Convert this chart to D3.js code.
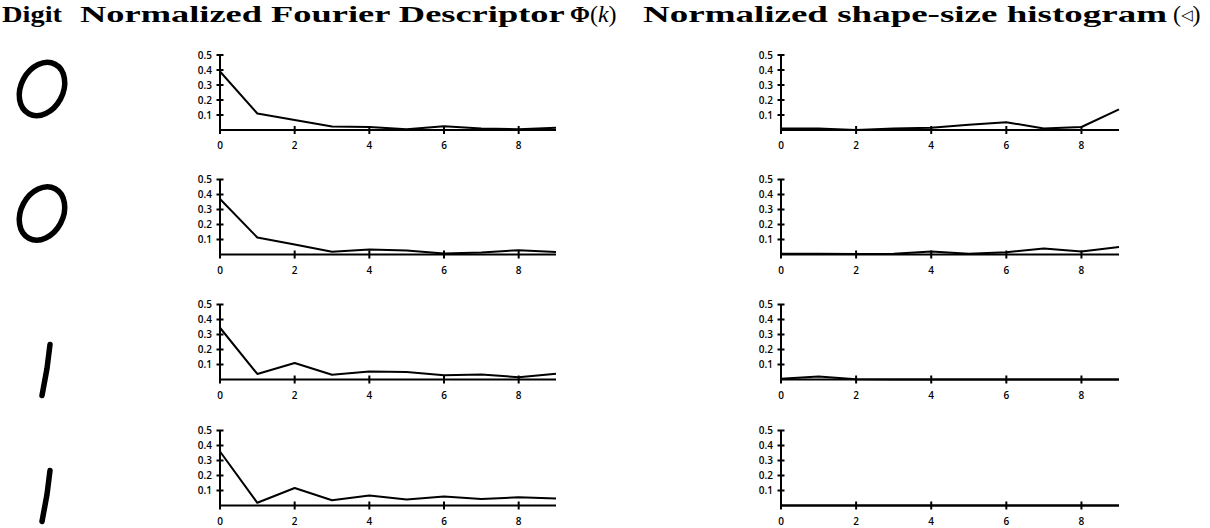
<!DOCTYPE html>
<html><head><meta charset="utf-8">
<script src="https://cdn.jsdelivr.net/npm/d3@7"></script>
<style>
html,body{margin:0;padding:0;background:#fff;}
svg{display:block;}
</style></head>
<body>
<svg id="c" width="1210" height="528"></svg>
<script>
// ---- data ----
const kValues = [0,1,2,3,4,5,6,7,8,9];
const xTicks = [0,2,4,6,8];
const yTicks = [0.1,0.2,0.3,0.4,0.5];
const yTickLabels = ["0.1","0.2","0.3","0.4","0.5"];
const digits = ["0","0","1","1"];
const headers = ["Digit","Normalized Fourier Descriptor","Normalized shape-size histogram"];
const fourier0a = [0.39,0.11,0.067,0.024,0.02,0.005,0.025,0.01,0.005,0.015];
const fourier0b = [0.37,0.113,0.067,0.018,0.033,0.027,0.007,0.013,0.029,0.016];
const fourier1a = [0.345,0.037,0.11,0.032,0.054,0.05,0.028,0.034,0.015,0.039];
const fourier1b = [0.36,0.018,0.117,0.035,0.066,0.04,0.06,0.044,0.055,0.046];
const hist0a = [0.01,0.01,0.0,0.01,0.015,0.035,0.052,0.01,0.02,0.137];
const hist0b = [0.005,0.005,0.003,0.005,0.02,0.005,0.015,0.04,0.02,0.05];
const hist1a = [0.005,0.02,0.002,0,0,0,0,0,0,0];
const hist1b = [0,0,0,0,0,0,0,0,0,0];
const fourierSeries = [fourier0a,fourier0b,fourier1a,fourier1b];
const histSeries = [hist0a,hist0b,hist1a,hist1b];

// ---- layout ----
const svg = d3.select("#c");
const rowTops = [55,179.5,304.5,430.5];
const plotH = 75;
const panels = [
  {x0:220, x1:556, series:fourierSeries},
  {x0:781, x1:1119, series:histSeries}
];
const tickFont = "'Open Sans','DejaVu Sans',sans-serif";
const SW = 2;

// headers
const hdr = svg.append("g").attr("font-family","'Liberation Serif','DejaVu Serif',serif")
  .attr("font-weight","bold").attr("font-size",24).attr("fill","#000");
hdr.append("text").attr("x",2).attr("y",22).attr("textLength",60).attr("lengthAdjust","spacingAndGlyphs").text(headers[0]);
const h2 = hdr.append("text").attr("x",80).attr("y",22);
h2.append("tspan").attr("textLength",484).attr("lengthAdjust","spacingAndGlyphs").text(headers[1]);
h2.append("tspan").text(" \u03A6");
h2.append("tspan").attr("font-weight","normal").text("(");
h2.append("tspan").attr("font-weight","normal").attr("font-style","italic").text("k");
h2.append("tspan").attr("font-weight","normal").text(")");
const h3 = hdr.append("text").attr("x",643).attr("y",22);
h3.append("tspan").attr("textLength",524).attr("lengthAdjust","spacingAndGlyphs").text(headers[2]);
h3.append("tspan").attr("font-weight","normal").text(" (");
h3.append("tspan").attr("font-weight","normal").attr("font-size",15).attr("dy",-2).text("\u25C1");
h3.append("tspan").attr("font-weight","normal").attr("dy",2).text(")");

// digits (handwritten glyph sketches)
const dg = svg.append("g").attr("fill","none").attr("stroke","#000").attr("stroke-linecap","round").attr("stroke-linejoin","round");
digits.forEach((d,i)=>{
  const top = rowTops[i];
  if(d==="0"){
    const cy = top + 34, cx = 42;
    dg.append("ellipse").attr("cx",cx).attr("cy",cy).attr("rx",21).attr("ry",28)
      .attr("transform",`rotate(28,${cx},${cy})`).attr("stroke-width",5.5);
  } else {
    dg.append("path").attr("d",`M50,${top+40} L47,${top+64} L42,${top+91}`).attr("stroke-width",5.5);
  }
});

// charts
panels.forEach(p=>{
  const x = d3.scaleLinear().domain([0,9]).range([p.x0,p.x1]);
  rowTops.forEach((top,i)=>{
    const y = d3.scaleLinear().domain([0,0.5]).range([top+plotH, top]);
    const g = svg.append("g");
    const base = y(0);
    g.append("line").attr("x1",x(0)).attr("x2",x(9)).attr("y1",base).attr("y2",base)
      .attr("stroke","#000").attr("stroke-width",SW);
    g.append("line").attr("x1",x(0)).attr("x2",x(0)).attr("y1",y(0.5)).attr("y2",base+4)
      .attr("stroke","#000").attr("stroke-width",SW);
    g.selectAll(".yt").data(yTicks).join("line")
      .attr("x1",x(0)-3.5).attr("x2",x(0)+3.5).attr("y1",d=>y(d)).attr("y2",d=>y(d))
      .attr("stroke","#000").attr("stroke-width",SW);
    g.selectAll(".yl").data(yTicks).join("text")
      .attr("x",x(0)-8).attr("y",d=>y(d)).attr("dy","0.35em").attr("text-anchor","end")
      .attr("font-family",tickFont).attr("font-weight",600).attr("font-size",10).attr("fill","#000")
      .text((d,j)=>yTickLabels[j]);
    g.selectAll(".xt").data(xTicks.filter(t=>t>0)).join("line")
      .attr("x1",d=>x(d)).attr("x2",d=>x(d)).attr("y1",base-4).attr("y2",base+4)
      .attr("stroke","#000").attr("stroke-width",SW);
    g.selectAll(".xl").data(xTicks).join("text")
      .attr("x",d=>x(d)).attr("y",base+19).attr("text-anchor","middle")
      .attr("font-family",tickFont).attr("font-weight",600).attr("font-size",10).attr("fill","#000")
      .text(d=>d);
    const line = d3.line().x((d,j)=>x(kValues[j])).y(d=>y(d));
    g.append("path").datum(p.series[i]).attr("d",line)
      .attr("fill","none").attr("stroke","#000").attr("stroke-width",SW).attr("stroke-linejoin","round");
  });
});
</script>
</body></html>
